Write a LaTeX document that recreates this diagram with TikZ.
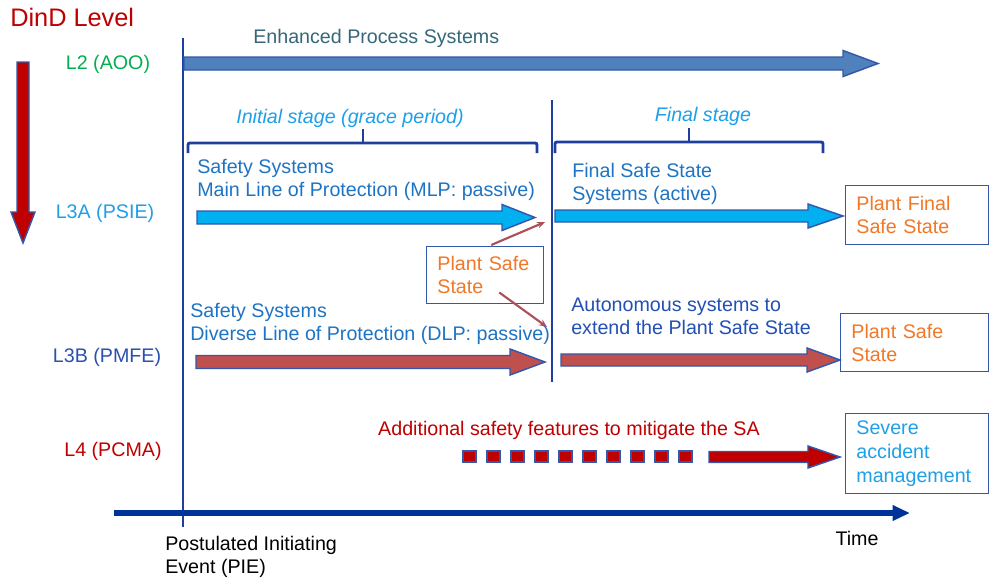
\documentclass[tikz,border=0pt]{standalone}
\usepackage{fontspec}
\setmainfont{Liberation Sans}
\usetikzlibrary{arrows.meta, positioning, calc}

\definecolor{dindred}{HTML}{C00000}
\definecolor{aoogreen}{HTML}{00B050}
\definecolor{psieblue}{HTML}{1E9FE8}
\definecolor{pmfeblue}{HTML}{2A50B0}
\definecolor{lineblue}{HTML}{1F3F9F}
\definecolor{axisblue}{HTML}{003399}
\definecolor{edgeblue}{HTML}{3358AA}
\definecolor{procfill}{HTML}{4F81BD}
\definecolor{mlpfill}{HTML}{00B0F0}
\definecolor{dlpfill}{HTML}{C0504D}
\definecolor{safeorange}{HTML}{F07828}
\definecolor{sysblue}{HTML}{1E74C4}
\definecolor{autoblue}{HTML}{2350B4}
\definecolor{proctext}{HTML}{35687A}

% fill, x start, x end, y, half shaft, head length
\newcommand{\blockarrow}[6]{%
  \draw[blockedge, fill=#1] (#2,#4-#5) -- (#3-#6,#4-#5) -- (#3-#6,#4-2*#5) -- (#3,#4)
    -- (#3-#6,#4+2*#5) -- (#3-#6,#4+#5) -- (#2,#4+#5) -- cycle;}

\begin{document}
\begin{tikzpicture}[x=0.75pt, y=-0.75pt, >=Latex,
    lbl/.style={font=\fontsize{14.75}{17.25}\selectfont, inner sep=0pt, align=left},
    stagelbl/.style={lbl, font=\fontsize{14.75}{17.25}\selectfont\itshape, text=psieblue},
    blockedge/.style={draw=edgeblue, line width=1.1pt, line join=miter},
    stagebar/.style={draw=lineblue, line width=2.2pt, rounded corners=1.5pt},
    eventline/.style={draw=lineblue, line width=2.2pt},
    statebox/.style={lbl, draw=edgeblue, line width=1.1pt, anchor=north west,
        inner xsep=8pt, text=safeorange},
    pointer/.style={draw=dlpfill!85!edgeblue, line width=1.6pt, -{Stealth[length=6pt, width=5pt]}}]
    \fill[white] (0,0) rectangle (990,579);
    \useasboundingbox (0,0) rectangle (990,579);
    % 1. DinD levels (left column)
    \node[font=\fontsize{19}{22}\selectfont, text=dindred, anchor=west, inner sep=0pt] (dind) at (10,17) {DinD Level};
    \draw[blockedge, fill=dindred] (17,62) -- (29,62) -- (29,212) -- (35,212) -- (23,243) -- (11,212) -- (17,212) -- cycle;
    \node[lbl, text=aoogreen] (l2) at (108,64) {L2 (AOO)};
    \node[lbl, text=psieblue] (l3a) at (105,213) {L3A (PSIE)};
    \node[lbl, text=pmfeblue] (l3b) at (107,357) {L3B (PMFE)};
    \node[lbl, text=dindred] (l4) at (113,451) {L4 (PCMA)};
    % 2. Time axis and initiating event
    \coordinate (pietop) at (183,38);
    \coordinate (piebot) at (183,527);
    \draw[eventline] (pietop) -- (piebot);
    \coordinate (tstart) at (114,513);
    \coordinate (tend) at (910,513);
    \draw[axisblue, line width=4.5pt, -{Triangle[length=13pt, width=11pt]}] (tstart) -- (tend);
    \node[lbl, anchor=west] (pie) at (165,556.5) {Postulated Initiating\\Event (PIE)};
    \node[lbl] (time) at (857,538) {Time};
    % 3. L2: enhanced process systems
    \node[lbl, text=proctext, anchor=west] (eps) at (253,38) {Enhanced Process Systems};
    \blockarrow{procfill}{184}{878}{63.5}{6.5}{35}
    % 4. Stages
    \draw[stagebar] (188,153) -- (188,143) -- (537,143) -- (537,153);
    \draw[stagebar] (363,143) -- (363,129);
    \node[stagelbl] (initstage) at (350,118) {Initial stage (grace period)};
    \coordinate (endtop) at (552,100);
    \coordinate (endbot) at (552,382);
    \draw[eventline] (endtop) -- (endbot);
    \draw[stagebar] (555,153) -- (555,142) -- (823,142) -- (823,153);
    \draw[stagebar] (689,142) -- (689,128);
    \node[stagelbl] (finalstage) at (703,116) {Final stage};
    % 5. L3A: main line of protection
    \node[lbl, text=sysblue, anchor=west] (mlp) at (197,179.5) {Safety Systems\\Main Line of Protection (MLP: passive)};
    \blockarrow{mlpfill}{197}{535}{217.5}{6.5}{33}
    \node[lbl, text=sysblue, anchor=west] (fss) at (572,183.5) {Final Safe State\\Systems (active)};
    \blockarrow{mlpfill}{555}{843}{216}{6}{35}
    \node[statebox, text width=91pt, minimum height=44.25pt] (finalsafe) at (845,185) {Plant Final\\Safe State};
    % 6. Plant safe state reached by both lines
    \node[statebox, text width=71.75pt, minimum height=42.75pt] (safe) at (426,246) {Plant Safe\\State};
    \coordinate (mlpend) at (545,222);
    \coordinate (dlpend) at (547,327);
    \draw[pointer] ($(safe.north)+(6,-1)$) -- (mlpend);
    \draw[pointer] ($(safe.south)+(14,-12)$) -- (dlpend);
    % 7. L3B: diverse line of protection
    \node[lbl, text=sysblue, anchor=west] (dlp) at (190,323.5) {Safety Systems\\Diverse Line of Protection (DLP: passive)};
    \blockarrow{dlpfill}{196}{545}{362}{6.5}{35}
    \node[lbl, text=autoblue, anchor=west] (auto) at (571,316) {Autonomous systems to\\extend the Plant Safe State};
    \blockarrow{dlpfill}{561}{840}{360}{6}{33}
    \node[statebox, text width=95pt, minimum height=43.5pt] (safe2) at (840,313) {Plant Safe\\State};
    % 8. L4: severe accident
    \node[lbl, text=dindred] (asf) at (569,430) {Additional safety features to mitigate the SA};
    \foreach \i in {0,...,9} {
        \draw[blockedge, line width=0.8pt, fill=dindred] (463+24*\i,451) rectangle ++(13,11);
    }
    \blockarrow{dindred}{709}{840}{457}{5.5}{32}
    \node[statebox, text=psieblue, text width=91pt, minimum height=60pt, font=\fontsize{14.75}{18}\selectfont] (sam) at (845,413) {Severe\\accident\\management};
\end{tikzpicture}
\end{document}
